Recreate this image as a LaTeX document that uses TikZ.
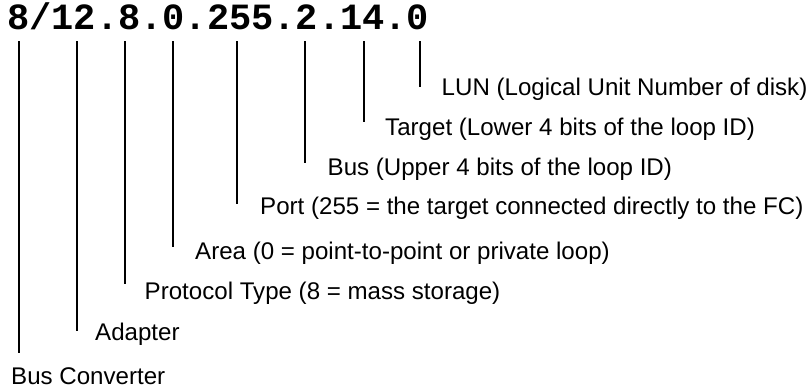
\documentclass[tikz,border=0pt]{standalone}
\usepackage{fontspec}
\setmainfont{Liberation Sans}
\newfontfamily\codefont{Liberation Mono}
\usepackage{tikz}

\begin{document}
\begin{tikzpicture}[x=1pt,y=-1pt,
    lbl/.style={anchor=base west,inner sep=0pt,font=\fontsize{24.1}{28}\selectfont},
    tick/.style={line width=2pt}]
    \useasboundingbox (0,0) rectangle (808,389);
    % the hardware path
    \node[anchor=base west,inner sep=0pt,font=\codefont\bfseries\fontsize{37}{40}\selectfont] (hwpath) at (7,29.5) {8/12.8.0.255.2.14.0};
    % the fields
    \node[lbl] (lun)    at (441.5,95)  {LUN (Logical Unit Number of disk)};
    \node[lbl] (target) at (385,135)   {Target (Lower 4 bits of the loop ID)};
    \node[lbl] (bus)    at (327.5,175.5) {Bus (Upper 4 bits of the loop ID)};
    \node[lbl] (port)   at (260,214.3) {Port (255 = the target connected directly to the FC)};
    \node[lbl] (area)   at (195,259)   {Area (0 = point-to-point or private loop)};
    \node[lbl] (proto)  at (144.5,299) {Protocol Type (8 = mass storage)};
    \node[lbl] (adapt)  at (95,340)    {Adapter};
    \node[lbl] (busconv) at (11,384)   {Bus Converter};
    % ticks under the path
    \coordinate (t-lun)     at (420,41);
    \coordinate (t-target)  at (363.7,41);
    \coordinate (t-bus)     at (305,41);
    \coordinate (t-port)    at (237,41);
    \coordinate (t-area)    at (172.7,41);
    \coordinate (t-proto)   at (125,41);
    \coordinate (t-adapt)   at (77,41);
    \coordinate (t-busconv) at (18.7,41);
    \draw[tick] (t-lun)     -- ++(0,46);
    \draw[tick] (t-target)  -- ++(0,81);
    \draw[tick] (t-bus)     -- ++(0,122);
    \draw[tick] (t-port)    -- ++(0,163);
    \draw[tick] (t-area)    -- ++(0,205.7);
    \draw[tick] (t-proto)   -- ++(0,243);
    \draw[tick] (t-adapt)   -- ++(0,290);
    \draw[tick] (t-busconv) -- ++(0,311.7);
\end{tikzpicture}
\end{document}
